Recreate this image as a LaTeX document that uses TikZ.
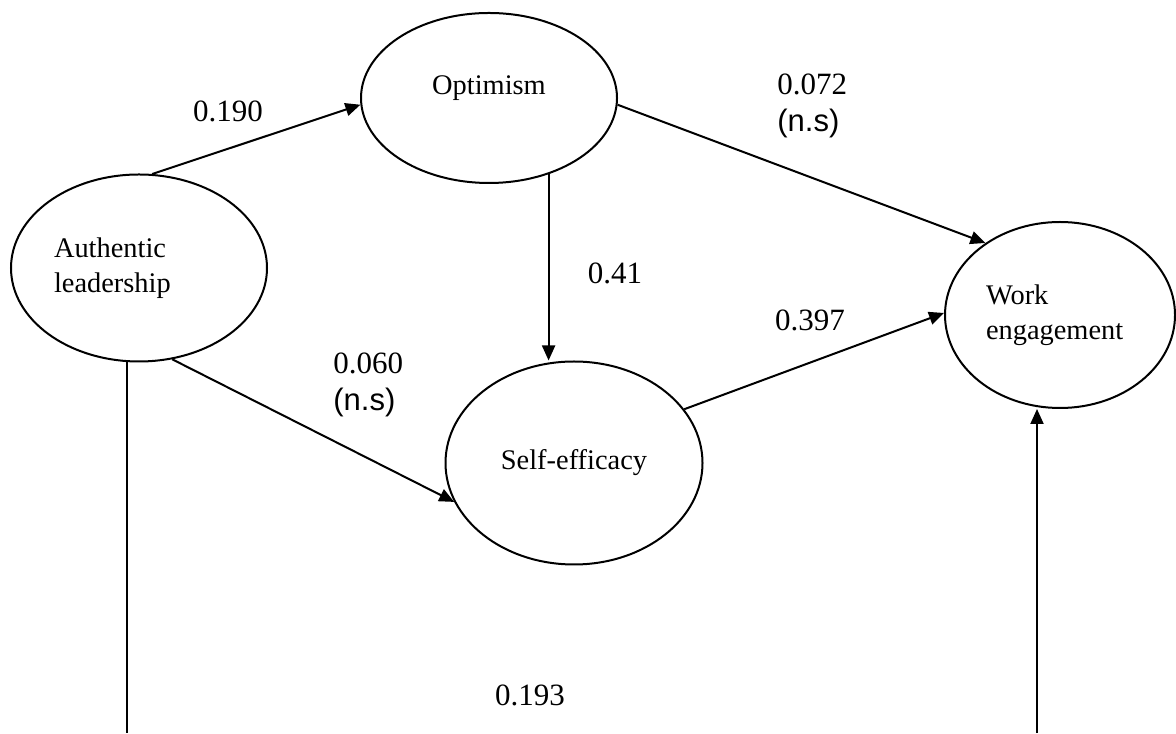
\documentclass[tikz,border=0pt]{standalone}
\usepackage{fontspec}
\setmainfont{Liberation Serif}
\newfontfamily\nsfont{Liberation Sans}
\usetikzlibrary{shapes.geometric,arrows.meta}

\begin{document}
\begin{tikzpicture}[x=0.5pt,y=0.5pt,
    latent/.style={draw,ellipse,line width=1pt,inner sep=0pt,
      font=\fontsize{14.2}{17.5}\selectfont},
    coef/.style={inner sep=0pt,font=\fontsize{15.5}{18.5}\selectfont},
    path/.style={line width=1pt,-{Triangle[length=7.5pt,width=6.5pt]}}]
  \useasboundingbox (0,0) rectangle (1176,733);
  % constructs
  \node[latent,minimum width=128pt,minimum height=93.5pt,
    text width=85pt,align=left] (AL) at (139,465) {Authentic\\leadership};
  \node[latent,minimum width=128pt,minimum height=85pt,
    text depth=13pt] (Opt) at (489,635) {Optimism};
  \node[latent,minimum width=128.5pt,minimum height=101.5pt] (SE) at (574,270) {Self-efficacy};
  \node[latent,minimum width=115pt,minimum height=93pt,
    text width=74pt,align=left] (WE) at (1060,418) {Work\\engagement};
  % path coefficients
  \node[coef] (c190) at (228,622) {0.190};
  \node[coef] (c41) at (615,460) {0.41};
  \node[coef,anchor=west,align=left] (c072) at (777,627) {0.072\\{\nsfont(n.s)}};
  \node[coef,anchor=west,align=left] (c060) at (333,348) {0.060\\{\nsfont(n.s)}};
  \node[coef] (c397) at (810,413) {0.397};
  \node[coef] (c193) at (530,38) {0.193};
  % paths
  \draw[path] (AL.82) -- (Opt.183);
  \draw[path] (Opt.-52) -- (Opt.-52 |- SE.north);
  \draw[path] (Opt.-3.6) -- (WE.136);
  \draw[path] (AL.-70) -- (SE.198);
  \draw[path] (SE.26) -- (WE.179);
  \coordinate (alEnd) at (127,0);
  \coordinate (weStart) at (1037,0);
  \draw[line width=1pt] (alEnd |- AL.south) -- (alEnd);
  \draw[path] (weStart) -- (weStart |- WE.south);
\end{tikzpicture}
\end{document}
